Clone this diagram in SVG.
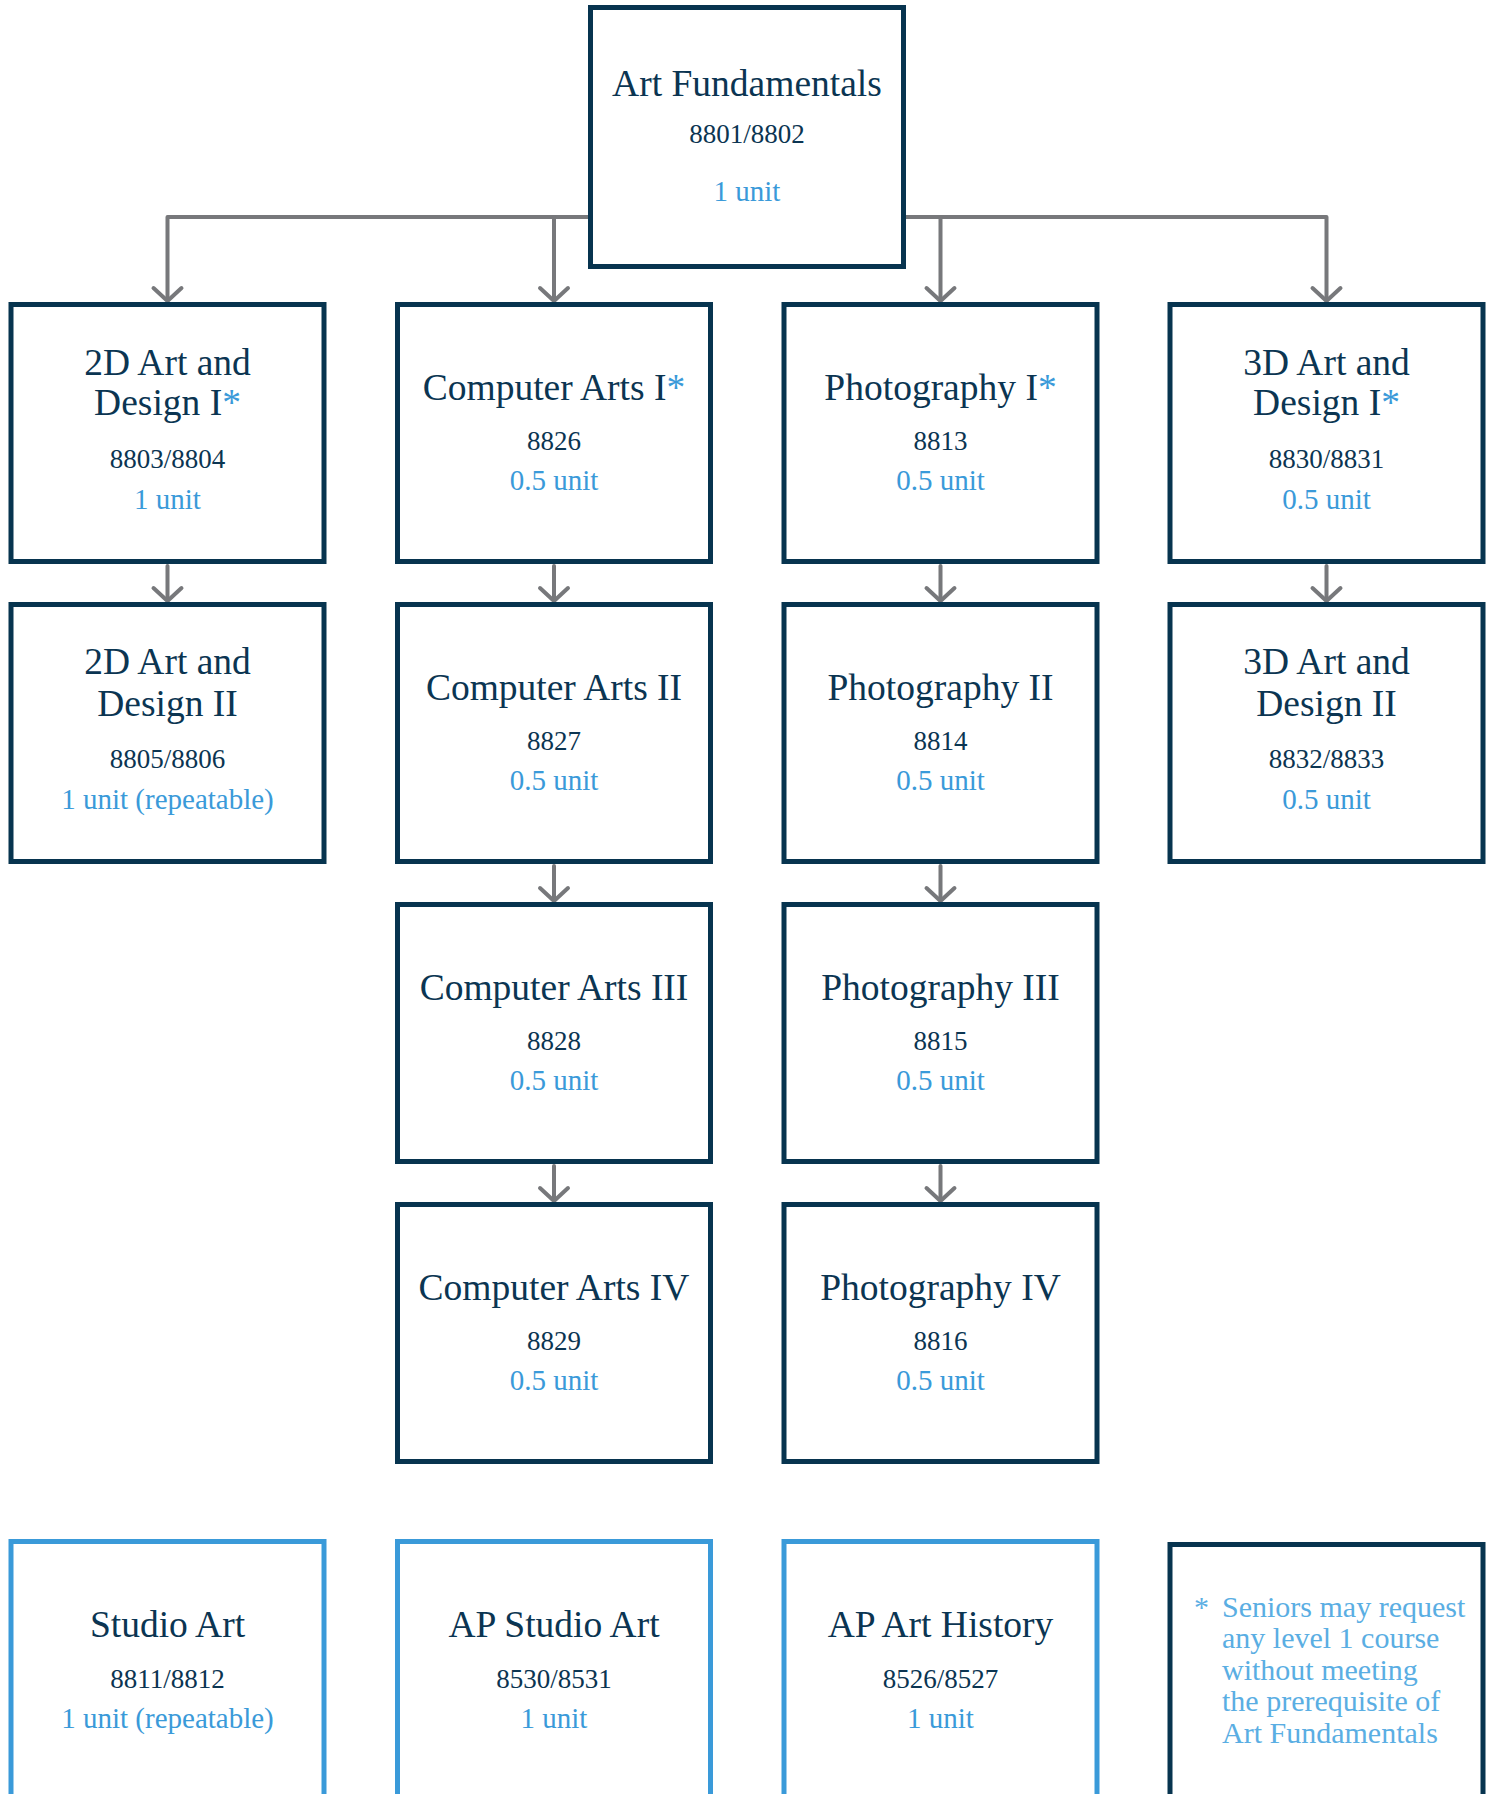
<svg xmlns="http://www.w3.org/2000/svg" width="1493" height="1794" viewBox="0 0 1493 1794">
<style>
.box{fill:#fff;stroke:#07344f;stroke-width:5}
.box2{fill:#fff;stroke:#3a9ad9;stroke-width:5}
.con{fill:none;stroke:#77787b;stroke-width:4;stroke-linejoin:round;stroke-linecap:round}
text{font-family:"Liberation Serif","Times New Roman",serif;text-anchor:middle}
.t{font-size:37.5px;fill:#0b3552}
.c{font-size:27px;fill:#0b3552}
.u{font-size:29px;fill:#3a9ad9}
.s{fill:#3a9ad9}
.n{font-size:30px;fill:#5aaee3;text-anchor:start}
</style>
<rect width="1493" height="1794" fill="#fff"/>
<g id="connectors" class="con">
<path d="M167.5,300 V217 H1326.5 V300"/>
<path d="M554,217 V300"/>
<path d="M940.5,217 V300"/>
<polyline points="153.5,288 167.5,301 181.5,288"/>
<polyline points="540,288 554,301 568,288"/>
<polyline points="926.5,288 940.5,301 954.5,288"/>
<polyline points="1312.5,288 1326.5,301 1340.5,288"/>
<path d="M167.5,566 V600"/>
<path d="M554,566 V600"/>
<path d="M940.5,566 V600"/>
<path d="M1326.5,566 V600"/>
<polyline points="153.5,588 167.5,601 181.5,588"/>
<polyline points="540,588 554,601 568,588"/>
<polyline points="926.5,588 940.5,601 954.5,588"/>
<polyline points="1312.5,588 1326.5,601 1340.5,588"/>
<path d="M554,866 V900"/>
<path d="M940.5,866 V900"/>
<polyline points="540,888 554,901 568,888"/>
<polyline points="926.5,888 940.5,901 954.5,888"/>
<path d="M554,1166 V1200"/>
<path d="M940.5,1166 V1200"/>
<polyline points="540,1188 554,1201 568,1188"/>
<polyline points="926.5,1188 940.5,1201 954.5,1188"/>
</g>
<g id="art-fundamentals">
<rect class="box" x="590.5" y="7.5" width="313" height="259"/>
<text class="t" x="747" y="96">Art Fundamentals</text>
<text class="c" x="747" y="143">8801/8802</text>
<text class="u" x="747" y="201">1 unit</text>
</g>
<g id="art2d-1">
<rect class="box" x="11" y="304.5" width="313" height="257"/>
<text class="t" x="167.5" y="375">2D Art and</text>
<text class="t" x="167.5" y="415">Design I<tspan class="s">*</tspan></text>
<text class="c" x="167.5" y="468">8803/8804</text>
<text class="u" x="167.5" y="509">1 unit</text>
</g>
<g id="ca-1">
<rect class="box" x="397.5" y="304.5" width="313" height="257"/>
<text class="t" x="554" y="400">Computer Arts I<tspan class="s">*</tspan></text>
<text class="c" x="554" y="450">8826</text>
<text class="u" x="554" y="490">0.5 unit</text>
</g>
<g id="ph-1">
<rect class="box" x="784" y="304.5" width="313" height="257"/>
<text class="t" x="940.5" y="400">Photography I<tspan class="s">*</tspan></text>
<text class="c" x="940.5" y="450">8813</text>
<text class="u" x="940.5" y="490">0.5 unit</text>
</g>
<g id="art3d-1">
<rect class="box" x="1170" y="304.5" width="313" height="257"/>
<text class="t" x="1326.5" y="375">3D Art and</text>
<text class="t" x="1326.5" y="415">Design I<tspan class="s">*</tspan></text>
<text class="c" x="1326.5" y="468">8830/8831</text>
<text class="u" x="1326.5" y="509">0.5 unit</text>
</g>
<g id="art2d-2">
<rect class="box" x="11" y="604.5" width="313" height="257"/>
<text class="t" x="167.5" y="674">2D Art and</text>
<text class="t" x="167.5" y="716">Design II</text>
<text class="c" x="167.5" y="768">8805/8806</text>
<text class="u" x="167.5" y="809">1 unit (repeatable)</text>
</g>
<g id="ca-2">
<rect class="box" x="397.5" y="604.5" width="313" height="257"/>
<text class="t" x="554" y="700">Computer Arts II</text>
<text class="c" x="554" y="750">8827</text>
<text class="u" x="554" y="790">0.5 unit</text>
</g>
<g id="ph-2">
<rect class="box" x="784" y="604.5" width="313" height="257"/>
<text class="t" x="940.5" y="700">Photography II</text>
<text class="c" x="940.5" y="750">8814</text>
<text class="u" x="940.5" y="790">0.5 unit</text>
</g>
<g id="art3d-2">
<rect class="box" x="1170" y="604.5" width="313" height="257"/>
<text class="t" x="1326.5" y="674">3D Art and</text>
<text class="t" x="1326.5" y="716">Design II</text>
<text class="c" x="1326.5" y="768">8832/8833</text>
<text class="u" x="1326.5" y="809">0.5 unit</text>
</g>
<g id="ca-3">
<rect class="box" x="397.5" y="904.5" width="313" height="257"/>
<text class="t" x="554" y="1000">Computer Arts III</text>
<text class="c" x="554" y="1050">8828</text>
<text class="u" x="554" y="1090">0.5 unit</text>
</g>
<g id="ph-3">
<rect class="box" x="784" y="904.5" width="313" height="257"/>
<text class="t" x="940.5" y="1000">Photography III</text>
<text class="c" x="940.5" y="1050">8815</text>
<text class="u" x="940.5" y="1090">0.5 unit</text>
</g>
<g id="ca-4">
<rect class="box" x="397.5" y="1204.5" width="313" height="257"/>
<text class="t" x="554" y="1300">Computer Arts IV</text>
<text class="c" x="554" y="1350">8829</text>
<text class="u" x="554" y="1390">0.5 unit</text>
</g>
<g id="ph-4">
<rect class="box" x="784" y="1204.5" width="313" height="257"/>
<text class="t" x="940.5" y="1300">Photography IV</text>
<text class="c" x="940.5" y="1350">8816</text>
<text class="u" x="940.5" y="1390">0.5 unit</text>
</g>
<g id="studio-art">
<rect class="box2" x="11" y="1541.5" width="313" height="400"/>
<text class="t" x="167.5" y="1637">Studio Art</text>
<text class="c" x="167.5" y="1688">8811/8812</text>
<text class="u" x="167.5" y="1728">1 unit (repeatable)</text>
</g>
<g id="ap-studio-art">
<rect class="box2" x="397.5" y="1541.5" width="313" height="400"/>
<text class="t" x="554" y="1637">AP Studio Art</text>
<text class="c" x="554" y="1688">8530/8531</text>
<text class="u" x="554" y="1728">1 unit</text>
</g>
<g id="ap-art-history">
<rect class="box2" x="784" y="1541.5" width="313" height="400"/>
<text class="t" x="940.5" y="1637">AP Art History</text>
<text class="c" x="940.5" y="1688">8526/8527</text>
<text class="u" x="940.5" y="1728">1 unit</text>
</g>
<g id="note">
<rect class="box" x="1170" y="1544.5" width="313" height="400"/>
<text class="n" x="1194" y="1617">*</text>
<text class="n" x="1222" y="1617">Seniors may request</text>
<text class="n" x="1222" y="1648">any level 1 course</text>
<text class="n" x="1222" y="1680">without meeting</text>
<text class="n" x="1222" y="1711">the prerequisite of</text>
<text class="n" x="1222" y="1743">Art Fundamentals</text>
</g>
</svg>
